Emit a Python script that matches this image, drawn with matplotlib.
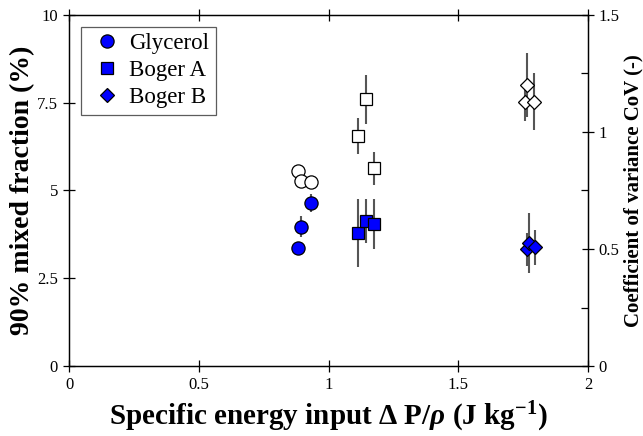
import matplotlib
matplotlib.use("Agg")
import matplotlib.pyplot as plt
import numpy as np

plt.rcParams['font.family'] = ['Liberation Serif', 'DejaVu Serif']
plt.rcParams['mathtext.fontset'] = 'custom'
plt.rcParams['mathtext.rm'] = 'Liberation Serif:bold'
plt.rcParams['mathtext.it'] = 'Liberation Serif:bold:italic'
plt.rcParams['mathtext.bf'] = 'Liberation Serif:bold'

# --- data ---
# Glycerol
gly_x_mix = [0.881, 0.893, 0.931]
gly_mix = [3.36, 3.97, 4.65]
gly_mix_err = [0.15, 0.30, 0.25]
gly_x_cov = [0.881, 0.893, 0.931]
gly_cov = [0.833, 0.791, 0.785]
gly_cov_err = [0.0, 0.0, 0.0]
# Boger A
ba_x_mix = [1.112, 1.143, 1.175]
ba_mix = [3.80, 4.14, 4.05]
ba_mix_err = [0.97, 0.63, 0.72]
ba_x_cov = [1.112, 1.143, 1.175]
ba_cov = [0.983, 1.14, 0.845]
ba_cov_err = [0.076, 0.105, 0.07]
# Boger B
bb_x_mix = [1.764, 1.773, 1.796]
bb_mix = [3.32, 3.50, 3.38]
bb_mix_err = [0.47, 0.85, 0.5]
bb_x_cov = [1.757, 1.766, 1.792]
bb_cov = [1.13, 1.20, 1.13]
bb_cov_err = [0.085, 0.136, 0.12]

x_ticks = [0, 0.5, 1, 1.5, 2]
x_ticklabels = ["0", "0.5", "1", "1.5", "2"]
yl_ticks = [0, 2.5, 5, 7.5, 10]
yl_ticklabels = ["0", "2.5", "5", "7.5", "10"]
yr_ticks = [0, 0.5, 1, 1.5]
yr_ticklabels = ["0", "0.5", "1", "1.5"]

fig = plt.figure(figsize=(6.43, 4.36), dpi=100)
ax = fig.add_axes([69/643, 70/436, (588-69)/643, (366-15)/436])
ax2 = ax.twinx()

blue = '#0000ff'
ecol = '#555555'
series = [
    ('Glycerol', 'o', 9.5, gly_x_mix, gly_mix, gly_mix_err, gly_x_cov, gly_cov, gly_cov_err),
    ('Boger A', 's', 8.0, ba_x_mix, ba_mix, ba_mix_err, ba_x_cov, ba_cov, ba_cov_err),
    ('Boger B', 'D', 7.5, bb_x_mix, bb_mix, bb_mix_err, bb_x_cov, bb_cov, bb_cov_err),
]
handles = []
for name, m, ms, xm, ym, em, xc, yc, ec in series:
    ax2.errorbar(xc, yc, yerr=ec, fmt=m, ms=ms, mfc='white', mec='black', mew=0.9,
                 ecolor=ecol, elinewidth=1.5, capsize=0, zorder=3)
    ax.errorbar(xm, ym, yerr=em, fmt=m, ms=ms, mfc=blue, mec='black', mew=0.9,
                ecolor=ecol, elinewidth=1.5, capsize=0, zorder=3)
    handles.append(ax.plot([], [], m, ms=ms, mfc=blue, mec='black', mew=0.9, ls='none', label=name)[0])

ax.set_zorder(ax2.get_zorder() + 1)
ax.patch.set_visible(False)

ax.set_xlim(0, 2)
ax.set_ylim(0, 10)
ax2.set_ylim(0, 1.5)
ax.set_xticks(x_ticks)
ax.set_xticklabels(x_ticklabels)
ax.set_yticks(yl_ticks)
ax.set_yticklabels(yl_ticklabels)
ax2.set_yticks(yr_ticks)
ax2.set_yticklabels(yr_ticklabels)
ax2.set_yticks([0.25, 0.75, 1.25], minor=True)

ax.tick_params(axis='both', which='major', direction='inout', length=8, width=0.9,
               labelsize=12, top=True, right=False, pad=4)
ax2.tick_params(axis='y', which='major', direction='inout', length=8, width=0.9, labelsize=12)
ax2.tick_params(axis='y', which='minor', direction='in', length=5, width=0.9)
for a in (ax, ax2):
    for s in a.spines.values():
        s.set_linewidth(0.9)

ax.set_xlabel(r'Specific energy input $\Delta$ P/$\it{\rho}$ (J kg$^{-1}$)', fontsize=21,
              fontweight='bold', labelpad=5)
ax.set_ylabel('90% mixed fraction (%)', fontsize=20, fontweight='bold', labelpad=1)
ax2.set_ylabel('Coefficient of variance CoV (-)', fontsize=15, fontweight='bold', labelpad=3)

leg = ax.legend(handles=handles, loc='upper left', bbox_to_anchor=(0.023, 0.967),
                fontsize=16.5, frameon=True, fancybox=False, edgecolor='#333333',
                handlelength=1.7, handletextpad=0.1, borderpad=0.3, labelspacing=0.245,
                borderaxespad=0)
leg.get_frame().set_linewidth(0.9)

fig.savefig('out.png', dpi=100)
